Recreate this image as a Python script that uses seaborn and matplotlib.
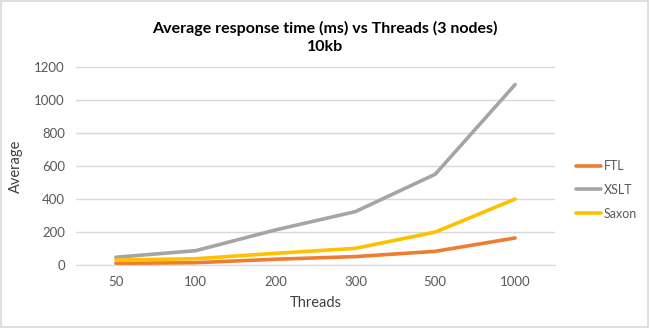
import matplotlib
matplotlib.use("Agg")
import matplotlib.pyplot as plt
import seaborn as sns
import pandas as pd
from matplotlib.patches import Rectangle

threads = ["50", "100", "200", "300", "500", "1000"]
ftl = [10, 14, 35, 51, 83, 164]
xslt = [47, 87, 213, 324, 551, 1095]
saxon = [30, 38, 71, 101, 200, 400]
series_names = ["FTL", "XSLT", "Saxon"]
colors = ["#ED7D31", "#A5A5A5", "#FFC000"]

df = pd.concat([
    pd.DataFrame({"Threads": threads, "Average": vals, "Series": name})
    for name, vals in zip(series_names, [ftl, xslt, saxon])
])

sns.set_style("white")
plt.rcParams["font.family"] = ["Lato", "DejaVu Sans"]

fig = plt.figure(figsize=(6.5, 3.28), dpi=100)
ax = fig.add_axes([76/650, 1-265/328, (555-76)/650, (265-67.3)/328])

sns.lineplot(data=df, x="Threads", y="Average", hue="Series", hue_order=series_names,
             palette=colors, linewidth=2.6, ax=ax, sort=False, legend=True)

ax.set_xlim(-0.5, 5.5)
ax.set_ylim(0, 1200)
ax.set_yticks(range(0, 1201, 200))
ax.grid(axis="y", color="#D9D9D9", linewidth=1)
ax.set_axisbelow(True)
for s in ["top", "right", "left"]:
    ax.spines[s].set_visible(False)
ax.spines["bottom"].set_color("#D9D9D9")
ax.tick_params(axis="both", length=0, labelsize=9.5, labelcolor="#595959", pad=8)
ax.set_xlabel("Threads", fontsize=10.5, color="#404040", labelpad=6)
ax.set_ylabel("Average", fontsize=10.5, color="#404040", labelpad=8)

leg = ax.legend(loc="center left", bbox_to_anchor=(1.02, 0.38), frameon=False,
                fontsize=9, handlelength=2.0, labelspacing=0.95, handletextpad=0.25)
for t in leg.get_texts():
    t.set_color("#595959")

fig.text(0.5, 1-28/328, "Average response time (ms) vs Threads (3 nodes)", ha="center", va="center",
         fontsize=11.5, fontweight="bold", color="#000000")
fig.text(0.5, 1-47/328, "10kb", ha="center", va="center",
         fontsize=11.5, fontweight="bold", color="#000000")

fig.patches.append(Rectangle((0.002, 0.003), 0.995, 0.993, transform=fig.transFigure,
                             fill=False, edgecolor="#D9D9D9", linewidth=1.2))

fig.savefig("out.png", dpi=100)
